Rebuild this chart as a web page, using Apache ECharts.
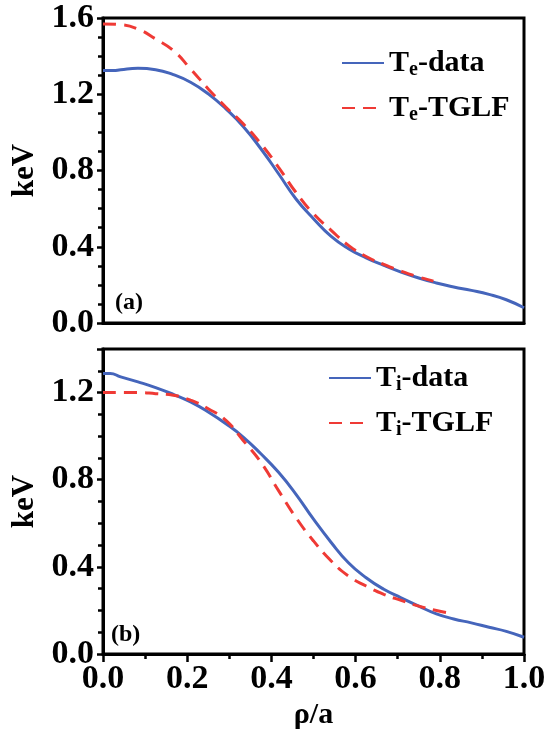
<!DOCTYPE html>
<html>
<head>
<meta charset="utf-8">
<script src="https://cdn.jsdelivr.net/npm/echarts@6/dist/echarts.min.js"></script>
<style>html,body{margin:0;padding:0;background:#fff;}#c{width:548px;height:729px;}</style>
</head>
<body>
<div id="c"></div>
<script>
// Panel (a): electron temperature
const teDataX = [0, 0.025, 0.042, 0.083, 0.125, 0.167, 0.208, 0.25, 0.292, 0.333, 0.375, 0.417, 0.458, 0.5, 0.542, 0.583, 0.625, 0.667, 0.708, 0.75, 0.792, 0.833, 0.875, 0.917, 0.958, 1.0];
const teDataY = [1.324, 1.324, 1.329, 1.336, 1.329, 1.303, 1.263, 1.202, 1.123, 1.031, 0.914, 0.783, 0.652, 0.547, 0.454, 0.39, 0.342, 0.302, 0.267, 0.236, 0.21, 0.189, 0.171, 0.15, 0.122, 0.08];
const teTglfX = [0, 0.042, 0.083, 0.125, 0.167, 0.208, 0.25, 0.292, 0.333, 0.375, 0.417, 0.458, 0.5, 0.542, 0.583, 0.625, 0.667, 0.708, 0.75, 0.792, 0.803];
const teTglfY = [1.569, 1.565, 1.542, 1.49, 1.429, 1.333, 1.228, 1.132, 1.045, 0.94, 0.817, 0.686, 0.573, 0.486, 0.407, 0.349, 0.307, 0.272, 0.241, 0.215, 0.206];
// Panel (b): ion temperature
const tiDataX = [0, 0.017, 0.042, 0.083, 0.125, 0.167, 0.208, 0.25, 0.292, 0.333, 0.375, 0.417, 0.458, 0.5, 0.542, 0.583, 0.625, 0.667, 0.708, 0.75, 0.792, 0.833, 0.875, 0.917, 0.958, 1.0];
const tiDataY = [1.288, 1.288, 1.272, 1.249, 1.223, 1.192, 1.157, 1.111, 1.057, 0.996, 0.919, 0.834, 0.734, 0.619, 0.512, 0.419, 0.35, 0.297, 0.258, 0.22, 0.184, 0.161, 0.143, 0.123, 0.104, 0.077];
const tiTglfX = [0, 0.083, 0.125, 0.167, 0.208, 0.25, 0.292, 0.333, 0.375, 0.417, 0.458, 0.5, 0.542, 0.583, 0.625, 0.667, 0.708, 0.75, 0.792, 0.82];
const tiTglfY = [1.2, 1.2, 1.195, 1.188, 1.165, 1.126, 1.072, 0.98, 0.88, 0.75, 0.627, 0.519, 0.427, 0.358, 0.312, 0.274, 0.246, 0.22, 0.2, 0.189];

const xTicks = [0, 0.2, 0.4, 0.6, 0.8, 1.0];
const yTicksA = [0, 0.4, 0.8, 1.2, 1.6];
const yTicksB = [0, 0.4, 0.8, 1.2];

const zip = (xs, ys) => xs.map((x, i) => [x, ys[i]]);
const FONT = '"Liberation Serif", "Times New Roman", serif';
const BLUE = '#4565bb';
const RED = '#ef3a35';

const richLegend = {
  t: { fontFamily: FONT, fontWeight: 'bold', fontSize: 30, color: '#000', lineHeight: 32 },
  s: { fontFamily: FONT, fontWeight: 'bold', fontSize: 20, color: '#000', lineHeight: 32, padding: [14, 0, 0, 0] }
};
function legendFmt(name) {
  const parts = name.split('|');
  return '{t|T}{s|' + parts[0] + '}{t|' + parts[1] + '}';
}

function yAxis(gi, max) {
  return {
    type: 'value', gridIndex: gi, min: 0, max: max, interval: 0.4,
    name: 'keV', nameLocation: 'middle', nameGap: 62, nameRotate: 90,
    nameTextStyle: { fontFamily: FONT, fontWeight: 'bold', fontSize: 31, color: '#000' },
    axisLine: { show: true, lineStyle: { color: '#000', width: 3 } },
    axisTick: { show: true, inside: false, length: 6, lineStyle: { color: '#000', width: 2.5 } },
    minorTick: { show: true, splitNumber: 4, length: 5, lineStyle: { color: '#000', width: 2.5 } },
    splitLine: { show: false },
    axisLabel: {
      fontFamily: FONT, fontWeight: 'bold', fontSize: 34, color: '#000', margin: 9,
      showMaxLabel: max === 1.6,
      formatter: v => v.toFixed(1)
    }
  };
}

const option = {
  animation: false,
  backgroundColor: '#fff',
  grid: [
    { left: 103, right: 24, top: 18, height: 305, outerBoundsMode: 'none', containLabel: false, show: true, borderColor: '#000', borderWidth: 3, backgroundColor: 'transparent' },
    { left: 103, right: 24, top: 349, height: 305, outerBoundsMode: 'none', containLabel: false, show: true, borderColor: '#000', borderWidth: 3, backgroundColor: 'transparent' }
  ],
  title: [
    { text: '(a)', left: 110, top: 286, textStyle: { fontFamily: FONT, fontWeight: 'bold', fontSize: 24, color: '#000' } },
    { text: '(b)', left: 106, top: 618, textStyle: { fontFamily: FONT, fontWeight: 'bold', fontSize: 24, color: '#000' } }
  ],
  xAxis: [
    {
      type: 'value', gridIndex: 0, min: 0, max: 1, interval: 0.2,
      axisLine: { show: true, lineStyle: { color: '#000', width: 3 } },
      axisTick: { show: false }, axisLabel: { show: false }, splitLine: { show: false }
    },
    {
      type: 'value', gridIndex: 1, min: 0, max: 1, interval: 0.2,
      name: 'ρ/a', nameLocation: 'middle', nameGap: 46,
      nameTextStyle: { fontFamily: FONT, fontWeight: 'bold', fontSize: 30, color: '#000' },
      axisLine: { show: true, lineStyle: { color: '#000', width: 3 } },
      axisTick: { show: true, inside: false, length: 8, lineStyle: { color: '#000', width: 2.5 } },
      minorTick: { show: true, splitNumber: 2, length: 5, lineStyle: { color: '#000', width: 2.5 } },
      splitLine: { show: false },
      axisLabel: { fontFamily: FONT, fontWeight: 'bold', fontSize: 34, color: '#000', margin: 8, formatter: v => v.toFixed(1) }
    }
  ],
  yAxis: [yAxis(0, 1.6), yAxis(1, 1.4)],
  legend: [
    {
      data: ['e|-data', 'e|-TGLF'], orient: 'vertical', left: 336, top: 41,
      itemWidth: 42, itemHeight: 14, itemGap: 11,
      itemStyle: { opacity: 0 },
      formatter: legendFmt, textStyle: { rich: richLegend }
    },
    {
      data: ['i|-data', 'i|-TGLF'], orient: 'vertical', left: 323, top: 356,
      itemWidth: 42, itemHeight: 14, itemGap: 11,
      itemStyle: { opacity: 0 },
      formatter: legendFmt, textStyle: { rich: richLegend }
    }
  ],
  series: [
    { name: 'e|-data', type: 'line', xAxisIndex: 0, yAxisIndex: 0, data: zip(teDataX, teDataY), smooth: true, symbol: 'none', lineStyle: { color: BLUE, width: 3 }, itemStyle: { color: BLUE } },
    { name: 'e|-TGLF', type: 'line', xAxisIndex: 0, yAxisIndex: 0, data: zip(teTglfX, teTglfY), smooth: true, symbol: 'none', lineStyle: { color: RED, width: 3, type: [13, 8] }, itemStyle: { color: RED } },
    { name: 'i|-data', type: 'line', xAxisIndex: 1, yAxisIndex: 1, data: zip(tiDataX, tiDataY), smooth: true, symbol: 'none', lineStyle: { color: BLUE, width: 3 }, itemStyle: { color: BLUE } },
    { name: 'i|-TGLF', type: 'line', xAxisIndex: 1, yAxisIndex: 1, data: zip(tiTglfX, tiTglfY), smooth: true, symbol: 'none', lineStyle: { color: RED, width: 3, type: [13, 8] }, itemStyle: { color: RED } }
  ]
};
const chart = echarts.init(document.getElementById('c'), null, { renderer: 'canvas' });
chart.setOption(option);
</script>
</body>
</html>
